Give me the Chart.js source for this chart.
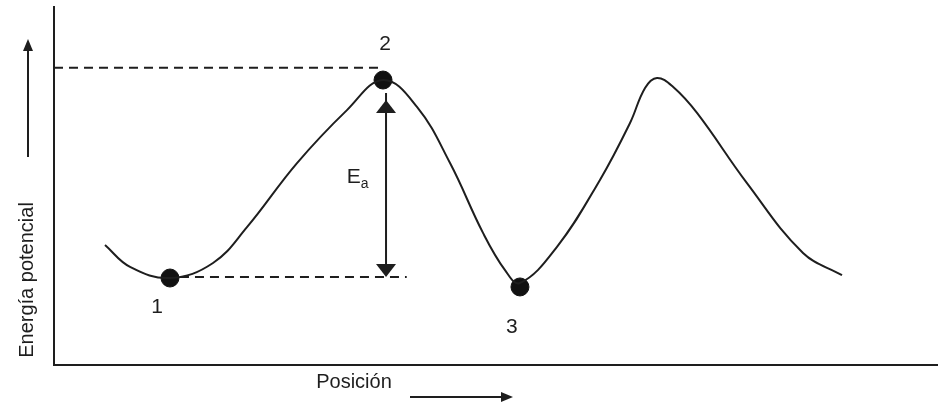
<!DOCTYPE html>
<html>
<head>
<meta charset="utf-8">
<script src="https://cdn.jsdelivr.net/npm/chart.js@4"></script>
<style>
  html, body { margin: 0; padding: 0; background: #fff; overflow: hidden; }
  canvas { display: block; }
</style>
</head>
<body>
<canvas id="energy-chart" width="938" height="407"></canvas>
<script>
// energy profile (arbitrary units, 0-100 both ways)
const curveX = [5.77, 8.60, 13.12, 17.99, 21.83, 27.49, 33.14, 37.22, 41.06, 44.80, 48.53, 51.02, 52.71, 56.90, 61.76, 65.16, 66.86, 68.21, 70.02, 72.74, 78.39, 84.73, 89.14];
const curveY = [33.5, 27.4, 24.3, 28.5, 38.5, 56.4, 71.2, 79.6, 72.1, 56.4, 36.9, 26.5, 22.9, 33.0, 51.7, 67.6, 77.4, 80.2, 77.7, 70.4, 50.8, 31.3, 25.1];

// marked states 1, 2, 3
const stateX = [13.12, 37.22, 52.71];
const stateY = [24.3, 79.6, 21.8];

// reference levels and the activation energy arrow
const topLevel = 83.0;
const bottomLevel = 24.6;
const eaX = 37.56;
const eaTop = 74.0;

const labelText = ['1', '2', '3'];
const labelX = [11.65, 37.44, 51.8];
const labelY = [14.5, 88.0, 8.9];

const ink = '#1e1e1e';
const font = '"Liberation Sans", Arial, sans-serif';

const points = curveX.map((x, i) => ({ x: x, y: curveY[i] }));
const states = stateX.map((x, i) => ({ x: x, y: stateY[i] }));

function arrowHead(ctx, x, y, dir, w, h) {
  // dir: 'up' | 'down' | 'right'
  ctx.beginPath();
  if (dir === 'up') {
    ctx.moveTo(x, y); ctx.lineTo(x - w / 2, y + h); ctx.lineTo(x + w / 2, y + h);
  } else if (dir === 'down') {
    ctx.moveTo(x, y); ctx.lineTo(x - w / 2, y - h); ctx.lineTo(x + w / 2, y - h);
  } else {
    ctx.moveTo(x, y); ctx.lineTo(x - h, y - w / 2); ctx.lineTo(x - h, y + w / 2);
  }
  ctx.closePath();
  ctx.fill();
}

const annotations = {
  id: 'annotations',
  afterDraw(chart) {
    const ctx = chart.ctx;
    const xs = chart.scales.x;
    const ys = chart.scales.y;
    ctx.save();
    ctx.fillStyle = ink;
    ctx.strokeStyle = ink;

    // arrowheads of the Ea arrow
    const ax = xs.getPixelForValue(eaX);
    arrowHead(ctx, ax, ys.getPixelForValue(eaTop), 'up', 20, 13);
    arrowHead(ctx, ax, ys.getPixelForValue(bottomLevel), 'down', 20, 13);

    // state numbers
    ctx.font = '21px ' + font;
    ctx.textAlign = 'center';
    ctx.textBaseline = 'alphabetic';
    labelText.forEach((t, i) => {
      ctx.fillText(t, xs.getPixelForValue(labelX[i]), ys.getPixelForValue(labelY[i]));
    });

    // E_a
    const ex = xs.getPixelForValue(33.9);
    const ey = ys.getPixelForValue(50.8);
    ctx.font = '21px ' + font;
    ctx.fillText('E', ex, ey);
    ctx.font = '14px ' + font;
    ctx.textAlign = 'left';
    ctx.fillText('a', ex + 7, ey + 5);

    // axis titles with their arrows
    ctx.font = '20px ' + font;
    ctx.textAlign = 'center';
    ctx.fillText('Posición', 354, 388);
    ctx.lineWidth = 2;
    ctx.beginPath();
    ctx.moveTo(410, 397);
    ctx.lineTo(503, 397);
    ctx.stroke();
    arrowHead(ctx, 513, 397, 'right', 10, 12);

    ctx.save();
    ctx.translate(33, 280);
    ctx.rotate(-Math.PI / 2);
    ctx.fillText('Energía potencial', 0, 0);
    ctx.restore();

    ctx.beginPath();
    ctx.moveTo(28, 157);
    ctx.lineTo(28, 50);
    ctx.stroke();
    arrowHead(ctx, 28, 39, 'up', 10, 12);

    ctx.restore();
  }
};

new Chart(document.getElementById('energy-chart'), {
  type: 'line',
  data: {
    datasets: [
      {
        label: 'curva',
        data: points,
        borderColor: ink,
        borderWidth: 2,
        pointRadius: 0,
        tension: 0.4,
        fill: false
      },
      {
        label: 'estados',
        data: states,
        showLine: false,
        pointRadius: 9,
        pointBackgroundColor: '#111',
        pointBorderColor: '#111'
      },
      {
        label: 'nivel 2',
        data: [{ x: 0, y: topLevel }, { x: 37.2, y: topLevel }],
        borderColor: ink,
        borderWidth: 2,
        borderDash: [9, 6],
        pointRadius: 0
      },
      {
        label: 'nivel 1',
        data: [{ x: 14.25, y: bottomLevel }, { x: 39.9, y: bottomLevel }],
        borderColor: ink,
        borderWidth: 2,
        borderDash: [9, 6],
        pointRadius: 0
      },
      {
        label: 'Ea',
        data: [{ x: eaX, y: eaTop + 2 }, { x: eaX, y: bottomLevel + 2 }],
        borderColor: ink,
        borderWidth: 2,
        pointRadius: 0
      }
    ]
  },
  options: {
    responsive: false,
    animation: false,
    layout: { autoPadding: false, padding: { left: 54, top: 7, right: 0, bottom: 42 } },
    plugins: {
      legend: { display: false },
      tooltip: { enabled: false }
    },
    scales: {
      x: {
        type: 'linear',
        min: 0,
        max: 100,
        ticks: { display: false },
        grid: { drawOnChartArea: false, drawTicks: false },
        border: { color: ink, width: 2 }
      },
      y: {
        type: 'linear',
        min: 0,
        max: 100,
        ticks: { display: false },
        grid: { drawOnChartArea: false, drawTicks: false },
        border: { color: ink, width: 2 }
      }
    }
  },
  plugins: [annotations]
});
</script>
</body>
</html>
